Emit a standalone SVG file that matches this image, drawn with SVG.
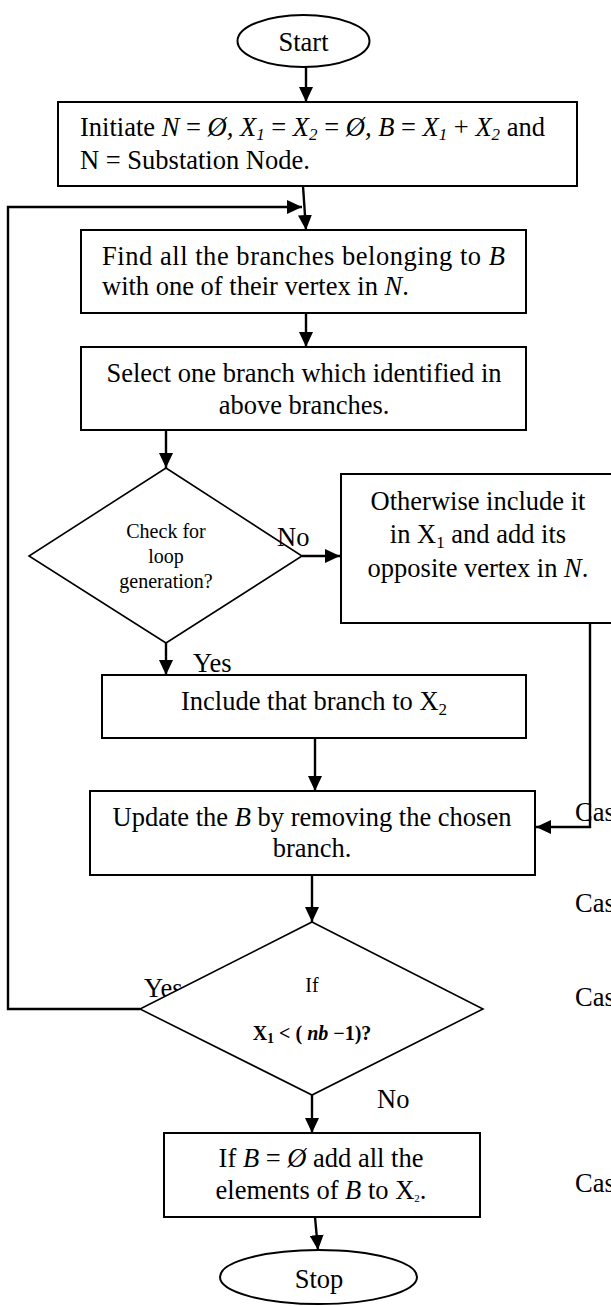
<svg xmlns="http://www.w3.org/2000/svg" width="611" height="1306" viewBox="0 0 611 1306">
<style>
.t{font-family:"Liberation Serif","Times New Roman",serif;font-size:26.5px;fill:#000}
.s{font-family:"Liberation Serif","Times New Roman",serif;font-size:20px;fill:#000}
.c{text-anchor:middle}
.i{font-style:italic}
.b{font-weight:bold}
.box{fill:#fff;stroke:#000;stroke-width:2}
.dia{fill:#fff;stroke:#000;stroke-width:1.6}
.arr{fill:none;stroke:#000;stroke-width:2.4;marker-end:url(#ah)}
</style>
<defs>
<marker id="ah" markerUnits="userSpaceOnUse" markerWidth="16" markerHeight="14" refX="15" refY="7" orient="auto">
<path d="M0,0 L15,7 L0,14 z" fill="#000"/>
</marker>
</defs>
<rect width="611" height="1306" fill="#fff"/>

<g id="labels-under">
<text class="t" x="144" y="997">Yes</text>
</g>

<g id="start">
<ellipse cx="303.5" cy="41" rx="66" ry="26" class="box"/>
<text class="t c" x="303.5" y="51">Start</text>
</g>

<g id="init">
<rect x="58" y="102" width="519" height="84" class="box"/>
<text class="t" x="80" y="136">Initiate <tspan class="i">N</tspan> = <tspan class="i">Ø, X</tspan><tspan class="i" font-size="17" dy="4">1</tspan><tspan dy="-4"> = </tspan><tspan class="i">X</tspan><tspan class="i" font-size="17" dy="4">2</tspan><tspan dy="-4"> = </tspan><tspan class="i">Ø, B</tspan> = <tspan class="i">X</tspan><tspan class="i" font-size="17" dy="4">1</tspan><tspan dy="-4"> + </tspan><tspan class="i">X</tspan><tspan class="i" font-size="17" dy="4">2</tspan><tspan dy="-4"> and</tspan></text>
<text class="t" x="80" y="169">N = Substation Node.</text>
</g>

<g id="find">
<rect x="81" y="230" width="445" height="83" class="box"/>
<text class="t" x="102" y="265" textLength="403" lengthAdjust="spacing">Find all the branches belonging to <tspan class="i">B</tspan></text>
<text class="t" x="102" y="295">with one of their vertex in <tspan class="i">N</tspan>.</text>
</g>

<g id="select">
<rect x="81" y="347" width="445" height="83" class="box"/>
<text class="t c" x="304" y="382">Select one branch which identified in</text>
<text class="t c" x="304" y="414">above branches.</text>
</g>

<g id="check">
<polygon points="166,468 302,556 166,643 29,556" class="dia"/>
<text class="s c" x="166" y="538">Check for</text>
<text class="s c" x="166" y="563">loop</text>
<text class="s c" x="166" y="588">generation?</text>
</g>

<g id="otherwise">
<rect x="341" y="474" width="280" height="149" class="box"/>
<text class="t c" x="478" y="510">Otherwise include it</text>
<text class="t c" x="478" y="543">in X<tspan font-size="17" dy="5">1</tspan><tspan dy="-5"> and add its</tspan></text>
<text class="t c" x="478" y="577">opposite vertex in <tspan class="i">N</tspan>.</text>
</g>

<g id="include">
<rect x="102" y="675" width="424" height="63" class="box"/>
<text class="t c" x="314" y="710">Include that branch to X<tspan font-size="17" dy="5">2</tspan></text>
</g>

<g id="update">
<rect x="90" y="791" width="445" height="84" class="box"/>
<text class="t c" x="312" y="826">Update the <tspan class="i">B</tspan> by removing the chosen</text>
<text class="t c" x="312" y="857">branch.</text>
</g>

<g id="ifx">
<polygon points="312,922 483,1009 312,1095 140,1009" class="dia"/>
<text class="s c" x="312" y="992">If</text>
<text class="s c b" x="312" y="1040">X<tspan font-size="14" dy="3">1</tspan><tspan dy="-3"> &lt; ( </tspan><tspan class="i">nb</tspan> −1)?</text>
</g>

<g id="final">
<rect x="164" y="1133" width="316" height="84" class="box"/>
<text class="t c" x="321" y="1167">If <tspan class="i">B</tspan> = <tspan class="i">Ø</tspan> add all the</text>
<text class="t c" x="321" y="1199">elements of <tspan class="i">B</tspan> to X<tspan font-size="11" dy="3">2</tspan><tspan dy="-3">.</tspan></text>
</g>

<g id="stop">
<ellipse cx="318.5" cy="1277" rx="98.5" ry="27" class="box"/>
<text class="t c" x="319" y="1288">Stop</text>
</g>

<g id="side-labels">
<text class="t" x="575" y="821">Cas</text>
<text class="t" x="575" y="912">Cas</text>
<text class="t" x="575" y="1006">Cas</text>
<text class="t" x="575" y="1192">Cas</text>
</g>

<g id="connectors">
<line x1="306" y1="67" x2="306" y2="102" class="arr"/>
<line x1="303" y1="186" x2="306" y2="230" class="arr"/>
<polyline points="140,1009 8,1009 8,207 302,207" class="arr"/>
<line x1="306" y1="313" x2="306" y2="347" class="arr"/>
<line x1="166" y1="430" x2="166" y2="468" class="arr"/>
<line x1="302" y1="556" x2="340" y2="556" class="arr"/>
<line x1="166" y1="643" x2="166" y2="675" class="arr"/>
<line x1="315" y1="738" x2="315" y2="791" class="arr"/>
<polyline points="590,623 590,827 536,827" class="arr"/>
<line x1="312" y1="875" x2="312" y2="922" class="arr"/>
<line x1="312" y1="1095" x2="312" y2="1133" class="arr"/>
<line x1="315" y1="1217" x2="318" y2="1250" class="arr"/>
</g>

<g id="labels">
<text class="t" x="277" y="546">No</text>
<text class="t" x="193" y="672">Yes</text>
<text class="t" x="377" y="1108">No</text>
</g>
</svg>
